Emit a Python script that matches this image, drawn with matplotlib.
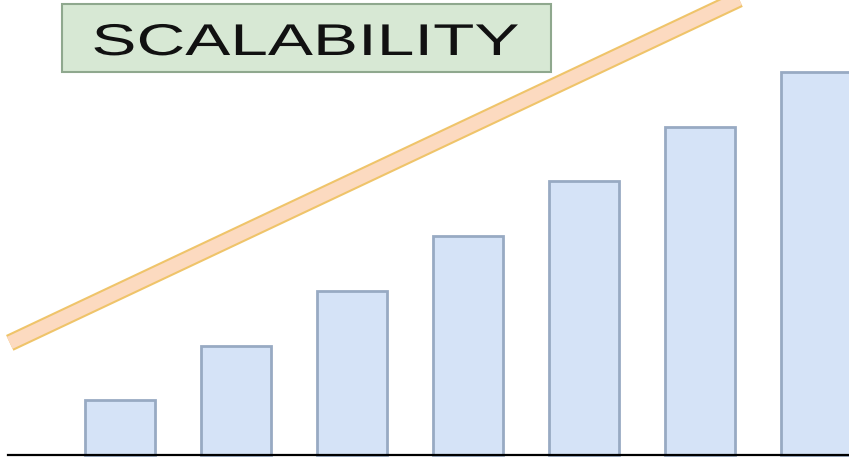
import numpy as np
import matplotlib.pyplot as plt
from matplotlib.patches import Rectangle
from matplotlib.patheffects import AbstractPathEffect
from matplotlib.transforms import Affine2D

# bar chart data: growing load steps
steps = [0, 1, 2, 3, 4, 5, 6]
heights = [1, 2, 3, 4, 5, 6, 7]

# trend band (x, y in data units)
trend_x = [-0.95, 5.7]
trend_y = [2.05, 8.7]

title = "SCALABILITY"


class StretchX(AbstractPathEffect):
    # widen the text horizontally around a fixed point (the title is a wide font)
    def __init__(self, sx, anchor, trans):
        super().__init__()
        self.sx = sx
        self.anchor = anchor
        self.trans = trans

    def draw_path(self, renderer, gc, tpath, affine, rgbFace=None):
        cx, cy = self.trans.transform(self.anchor)
        st = Affine2D().translate(-cx, 0).scale(self.sx, 1).translate(cx, 0)
        renderer.draw_path(gc, tpath, affine + st, rgbFace)


fig = plt.figure(figsize=(8.49, 4.61), dpi=100)
ax = fig.add_axes([0, 0, 1, 1])
ax.set_xlim(-1.034, 6.284)
ax.set_ylim(-0.11, 8.318)
ax.axis("off")

# bars
ax.bar(steps, heights, width=0.61, color="#d5e3f7", edgecolor="#98aac3", linewidth=2, zorder=2)

# baseline
ax.axhline(0, xmin=0.01, xmax=1, color="black", lw=1.6, zorder=3)

# trend band: outline then fill
ax.plot(trend_x, trend_y, color="#efc46a", lw=12.5, solid_capstyle="butt", zorder=4)
ax.plot(trend_x, trend_y, color="#fcdac0", lw=9.5, solid_capstyle="butt", zorder=5)

# title box
box = Rectangle((0.073, 0.844), 0.576, 0.1475, transform=ax.transAxes,
                facecolor="#d7e8d4", edgecolor="#8fa88e", lw=1.5, zorder=6)
ax.add_patch(box)
pos = (0.36, 1 - 55 / 461)
ax.text(pos[0], pos[1], title, transform=ax.transAxes, ha="center", va="baseline",
        fontsize=32, family="Liberation Sans", color="#111111", zorder=7,
        path_effects=[StretchX(1.52, pos, ax.transAxes)])

fig.savefig("out.png", dpi=100)
